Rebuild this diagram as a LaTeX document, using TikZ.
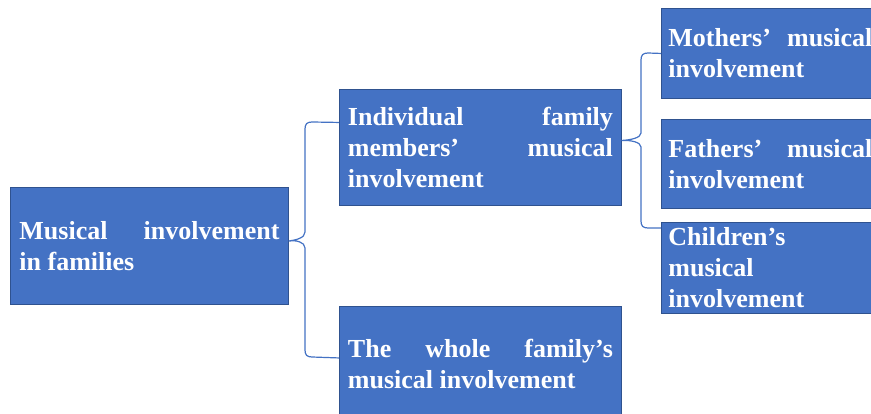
\documentclass[tikz,border=0pt]{standalone}
\usepackage{fontspec}
\setmainfont{Liberation Serif}
\usetikzlibrary{positioning}
\definecolor{boxfill}{HTML}{4472C4}
\definecolor{boxline}{HTML}{2F528F}
\definecolor{bracecol}{HTML}{4472C4}
\tikzset{
  box/.style={draw=boxline, line width=0.9pt, fill=boxfill, rectangle,
    anchor=north west, align=justify, text=white,
    font=\fontsize{26}{31}\selectfont\bfseries, inner ysep=0pt},
  brace/.style={draw=bracecol, line width=1.2pt, line join=round}
}
\begin{document}
\begin{tikzpicture}[x=1pt,y=-1pt]
\useasboundingbox (0,0) rectangle (871,414);
\clip (0,0) rectangle (871,414);
\fill[white] (0,0) rectangle (871,414);

% tree of boxes
\node[box, text width=260pt, inner xsep=9pt, minimum height=117pt] (root) at (10,187)
  {Musical involvement\linebreak in families};
\node[box, text width=265pt, inner xsep=8.5pt, minimum height=116pt] (m1) at (339,89)
  {Individual family\linebreak members’ musical\linebreak involvement};
\node[box, text width=265pt, inner xsep=8.5pt, minimum height=116pt] (m2) at (339,306)
  {The whole family’s\linebreak musical involvement};
\node[box, text width=204pt, inner xsep=7pt, minimum height=90pt] (l1) at (661,8)
  {Mothers’ musical\linebreak involvement};
\node[box, text width=204pt, inner xsep=7pt, minimum height=89pt] (l2) at (661,119)
  {Fathers’ musical\linebreak involvement};
\node[box, text width=204pt, inner xsep=7pt, minimum height=91pt] (l3) at (661,222)
  {Children’s\\ musical\\ involvement};

% brace from the root to the two middle boxes
\coordinate (t1) at ([yshift=5pt]root.east);
\coordinate (a1) at ([yshift=25pt]m1.west);
\coordinate (b1) at ([yshift=6.5pt]m2.west);
\draw[brace] (a1) -- (312,122) .. controls (307,122) and (305,124) .. (305,129)
  -- (305,232) .. controls (305,238) and (296,240) .. (t1)
  .. controls (296,240) and (305,242) .. (305,248)
  -- (305,350) .. controls (305,355) and (307,357) .. (312,357) -- (b1);

% brace from the first middle box to the three leaves
\coordinate (t2) at ([yshift=7pt]m1.east);
\coordinate (a2) at (l1.west);
\coordinate (b2) at ([yshift=-6pt]l3.north west);
\draw[brace] (a2) -- (648,53) .. controls (643,53) and (641,55) .. (641,60)
  -- (641,133) .. controls (641,138) and (630,140) .. (t2)
  .. controls (630,140) and (641,142) .. (641,147)
  -- (641,221) .. controls (641,226) and (643,228) .. (648,228) -- (b2);
\end{tikzpicture}
\end{document}
